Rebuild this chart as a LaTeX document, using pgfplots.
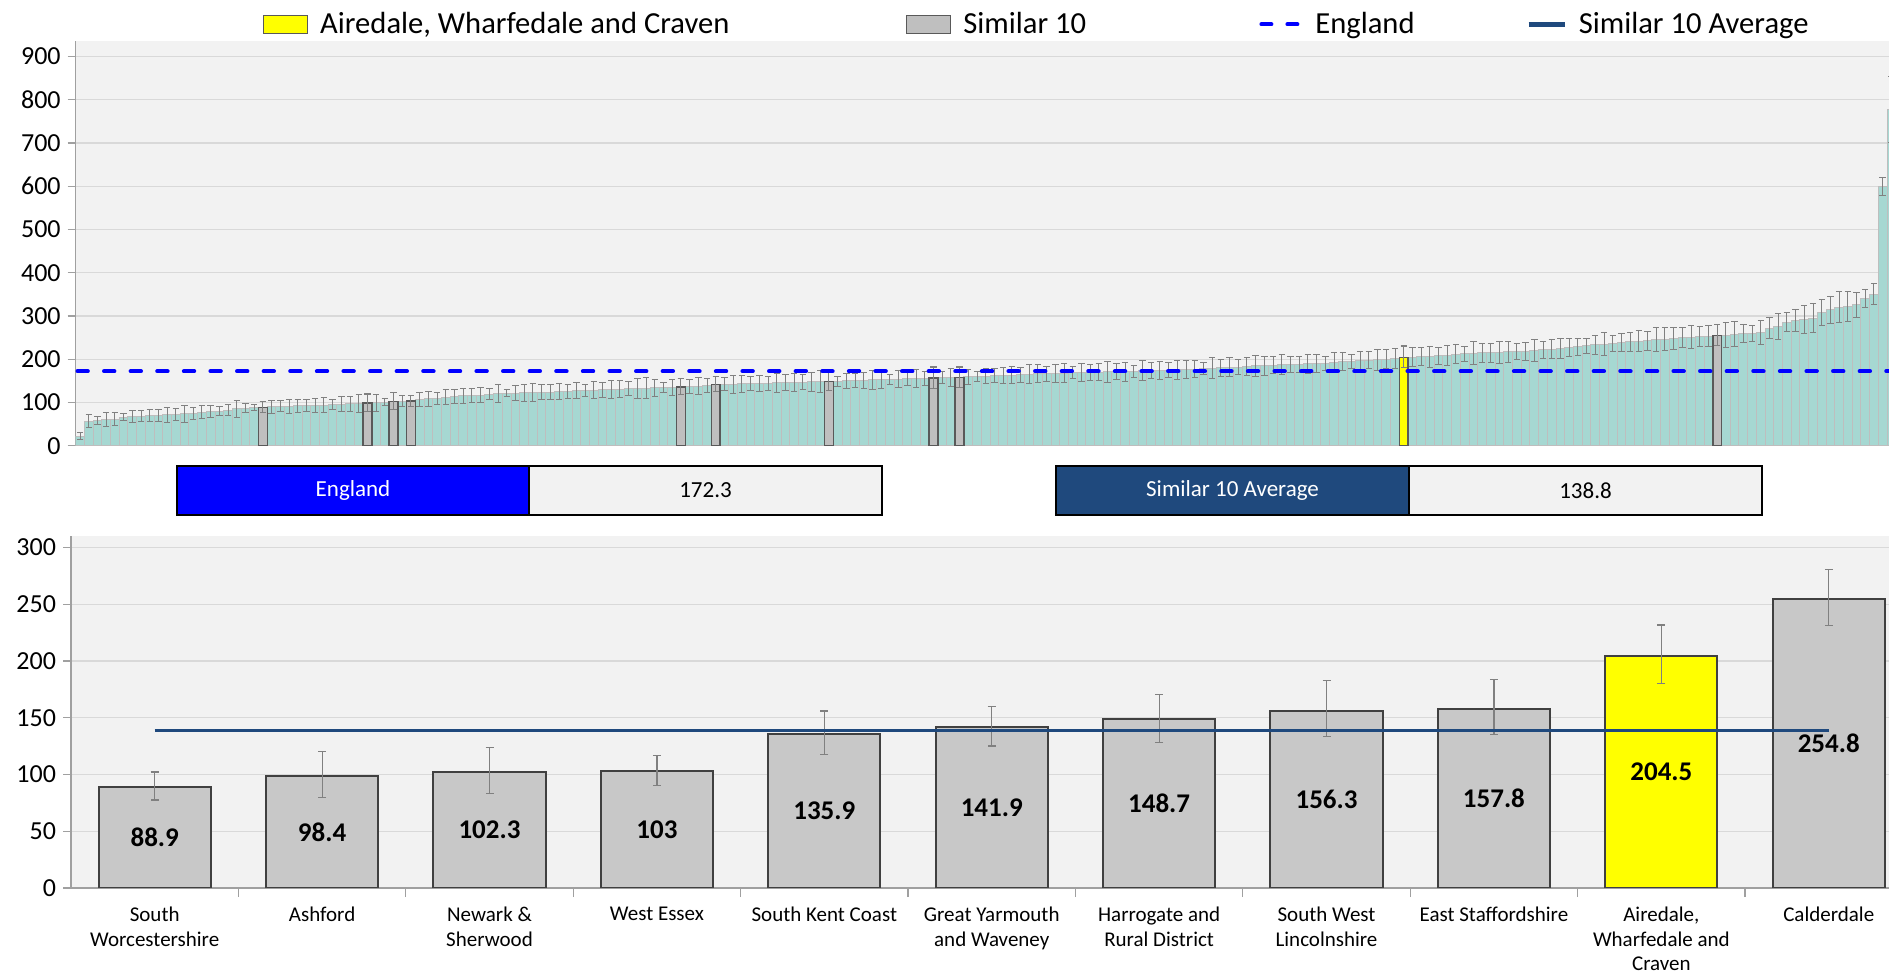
\documentclass[border=0pt]{standalone}
\usepackage{pgfplots}
\pgfplotsset{compat=1.18}
\usepackage{pgfplotstable}
\usepackage{fontspec}
\setmainfont{Carlito}

\definecolor{tealbar}{RGB}{166,216,210}
\definecolor{tealedge}{RGB}{190,190,190}
\definecolor{plotbg}{RGB}{242,242,242}
\definecolor{gridc}{RGB}{217,217,217}
\definecolor{axisc}{RGB}{160,160,160}
\definecolor{errc}{RGB}{128,128,128}
\definecolor{simfill}{RGB}{191,191,191}
\definecolor{simedge}{RGB}{89,89,89}
\definecolor{botfill}{RGB}{200,200,200}
\definecolor{botedge}{RGB}{64,64,64}
\definecolor{engblue}{RGB}{0,0,255}
\definecolor{avgblue}{RGB}{31,73,125}
\definecolor{yel}{RGB}{255,255,0}
\definecolor{boxgrey}{RGB}{242,242,242}

\pgfplotstableread{
x y e
0 22 8
1 57 14
2 58 10
3 60 16
4 61 15
5 66 8
6 67 14
7 68 13
8 69 14
9 70 14
10 71 18
11 72 13
12 74 20
13 75 14
14 77 15
15 79 13
16 80 10
17 82 13
18 85 20
19 87 11
20 88.5 7
21 88.9 13
22 90 15
23 91 13
24 91.5 16
25 92 15
26 93 14
27 93.5 16
28 94 17
29 95 12
30 96 18
31 97 17
32 97.5 21
33 98.4 20
34 99 19
35 100.5 8
36 102.3 20
37 102.6 13
38 103 14
39 106 16
40 108 17
41 110 14
42 112 17
43 113 16
44 115 18
45 116 16
46 117 17
47 119 13
48 120 21
49 121 8
50 121.5 18
51 122 19
52 123 20
53 123.5 17
54 124 17
55 125 18
56 126 16
57 127 19
58 127.5 14
59 128 20
60 129 18
61 130 21
62 131 19
63 132 16
64 132.5 23
65 133 24
66 134 20
67 134.5 12
68 135 19
69 135.9 19
70 137 17
71 138 20
72 139 16
73 141.9 18
74 142 15
75 142.5 21
76 143 20
77 143.5 17
78 144 18
79 144.5 16
80 145 22
81 145.5 19
82 146 21
83 147 17
84 147.5 22
85 148 25
86 148.7 21
87 149 11
88 150 18
89 150.5 17
90 151 19
91 152 23
92 152.5 20
93 153 12
94 154 19
95 154.5 15
96 155 21
97 156 16
98 156.3 25
99 157 14
100 157.5 21
101 157.8 24
102 159 17
103 160 12
104 161 18
105 161.5 16
106 162 19
107 163 20
108 164 18
109 165 22
110 166 21
111 166.5 17
112 167 20
113 168 22
114 168.5 14
115 169 21
116 169.5 18
117 170 20
118 170.5 24
119 171 18
120 171.5 22
121 172 14
122 173 23
123 173.5 19
124 174 21
125 175 18
126 176 22
127 176.5 20
128 177 19
129 178 14
130 179 24
131 180 20
132 181 22
133 182 17
134 183 21
135 184.5 24
136 185 22
137 186 20
138 187 23
139 187.5 19
140 188 18
141 189 21
142 190 20
143 191 16
144 192.5 23
145 194 21
146 195 17
147 196.5 22
148 198 20
149 199 24
150 200.5 21
151 202 23
152 204.5 26
153 205 22
154 205.5 21
155 206 24
156 207.5 20
157 209 23
158 211 22
159 212.5 17
160 214 26
161 214.5 23
162 215 22
163 216 25
164 217 24
165 217.5 18
166 218.5 21
167 220 25
168 221.5 20
169 223 22
170 225 24
171 227 21
172 229 20
173 231 18
174 233 23
175 235 27
176 236.5 19
177 238 21
178 240 22
179 241.5 24
180 243 22
181 245 28
182 246.5 26
183 248.5 25
184 250 24
185 251 27
186 252 23
187 253.5 25
188 254.8 25
189 256 28
190 257.7 29
191 259 21
192 260 18
193 261.6 27
194 272 24
195 275.5 30
196 286 23
197 289 26
198 292 32
199 295 34
200 308 30
201 314 31
202 320 36
203 322 35
204 326 29
205 340 21
206 350 24
207 600 21
208 778 76
}\allbars

\pgfplotstableread{
x y ep em
21 88.9 13.2 11.4
33 98.4 22 18.5
36 102.3 21.7 18.8
38 103 14 12.6
69 135.9 19.9 18.2
73 141.9 18.1 16.9
86 148.7 22 20.4
98 156.3 26.4 23.1
101 157.8 25.5 22.8
188 254.8 25.7 23.5
}\simtop

\pgfplotstableread{
x y ep em
152 204.5 27.1 24.5
}\areatop

\pgfplotstableread{
x y ep em lab
0 88.9 13.2 11.4 88.9
1 98.4 22 18.5 98.4
2 102.3 21.7 18.8 102.3
3 103 14 12.6 103
4 135.9 19.9 18.2 135.9
5 141.9 18.1 16.9 141.9
6 148.7 22 20.4 148.7
7 156.3 26.4 23.1 156.3
8 157.8 25.5 22.8 157.8
10 254.8 25.7 23.5 254.8
}\simbot

\pgfplotstableread{
x y ep em lab
9 204.5 27.1 24.5 204.5
}\areabot

\begin{document}
\begin{tikzpicture}
\path[use as bounding box] (0,0) rectangle (944.5bp,487.5bp);

% ---------------- top chart ----------------
\begin{axis}[
  at={(37.85bp,264.65bp)}, anchor=south west,
  scale only axis, width=906.65bp, height=202.35bp,
  xmin=-0.5, xmax=207.73, ymin=0, ymax=936,
  axis background/.style={fill=plotbg},
  axis x line*=bottom, axis y line*=left,
  axis line style={axisc, line width=0.6bp},
  xtick=\empty,
  ytick={0,100,...,900},
  ymajorgrids, grid style={gridc, line width=0.6bp},
  tick align=outside, major tick length=4bp,
  tick style={axisc, line width=0.6bp},
  /pgf/number format/assume math mode=true,
  yticklabel style={font=\fontsize{13bp}{15bp}\selectfont, text=black},
  clip=true,
  legend columns=4,
  legend cell align=left,
  legend style={at={(0.1033,1.041)}, anchor=west, draw=none, fill=none,
    inner sep=0pt, outer sep=0pt, row sep=0pt,
    nodes={inner sep=0pt},
    /tikz/every odd column/.style={column sep=6bp},
    font=\fontsize{15.3bp}{17bp}\selectfont},
]
\addlegendimage{legend image code/.code={\draw[fill=yel,draw=simedge,line width=0.6bp] (0bp,-4.4bp) rectangle (22bp,4.4bp);}}
\addlegendentry{\makebox[293bp][l]{Airedale, Wharfedale and Craven}}
\addlegendimage{legend image code/.code={\draw[fill=simfill,draw=simedge,line width=0.6bp] (0bp,-4.4bp) rectangle (22bp,4.4bp);}}
\addlegendentry{\makebox[148bp][l]{Similar 10}}
\addlegendimage{legend image code/.code={\draw[engblue,line width=2bp,line cap=round,dash pattern=on 5bp off 8bp] (1bp,0bp) -- (21bp,0bp);}}
\addlegendentry{\makebox[105.5bp][l]{England}}
\addlegendimage{legend image code/.code={\draw[avgblue,line width=2.2bp] (0bp,0bp) -- (18bp,0bp);}}
\addlegendentry{Similar 10 Average}

\addplot[ybar, bar width=1, bar shift=0pt, fill=tealbar, draw=tealedge, line width=0.5bp,
  error bars/.cd, y dir=both, y explicit,
  error bar style={errc, line width=0.5bp},
  error mark options={rotate=90, errc, mark size=1.6bp, line width=0.5bp}]
  table[x=x, y=y, y error=e] {\allbars};
\addplot[ybar, bar width=1, bar shift=0pt, fill=simfill, draw=simedge, line width=0.75bp,
  error bars/.cd, y dir=both, y explicit,
  error bar style={errc, line width=0.5bp},
  error mark options={rotate=90, errc, mark size=1.6bp, line width=0.5bp}]
  table[x=x, y=y, y error plus=ep, y error minus=em] {\simtop};
\addplot[ybar, bar width=1, bar shift=0pt, fill=yel, draw=simedge, line width=0.75bp,
  error bars/.cd, y dir=both, y explicit,
  error bar style={errc, line width=0.5bp},
  error mark options={rotate=90, errc, mark size=1.6bp, line width=0.5bp}]
  table[x=x, y=y, y error plus=ep, y error minus=em] {\areatop};
\addplot[engblue, line width=2bp, line cap=round, dash pattern=on 5.2bp off 8.1bp]
  coordinates {(-0.3,172.3) (207.73,172.3)};
\end{axis}

% ---------------- summary boxes ----------------
\node[draw=black, line width=1bp, fill=engblue, minimum width=176bp, minimum height=24.5bp,
  inner sep=0pt, anchor=south west, text=white, font=\fontsize{11.5bp}{13bp}\selectfont]
  at (88bp,229.5bp) {England};
\node[draw=black, line width=1bp, fill=boxgrey, minimum width=176.5bp, minimum height=24.5bp,
  inner sep=0pt, anchor=south west, text=black, font=\fontsize{11.5bp}{13bp}\selectfont]
  at (264bp,229.5bp) {172.3};
\node[draw=black, line width=1bp, fill=avgblue, minimum width=176.5bp, minimum height=24.5bp,
  inner sep=0pt, anchor=south west, text=white, font=\fontsize{11.5bp}{13bp}\selectfont]
  at (527.5bp,229.5bp) {Similar 10 Average};
\node[draw=black, line width=1bp, fill=boxgrey, minimum width=176.5bp, minimum height=24.5bp,
  inner sep=0pt, anchor=south west, text=black, font=\fontsize{11.5bp}{13bp}\selectfont]
  at (704bp,229.5bp) {138.8};

% ---------------- bottom chart ----------------
\begin{axis}[
  at={(35.5bp,43.5bp)}, anchor=south west,
  scale only axis, width=909bp, height=176bp,
  xmin=-0.5, xmax=10.36, ymin=0, ymax=310,
  axis background/.style={fill=plotbg},
  axis x line*=bottom, axis y line*=left,
  axis line style={axisc, line width=0.6bp},
  ytick={0,50,...,300},
  ymajorgrids, grid style={gridc, line width=0.6bp},
  tick align=outside, major tick length=4bp, minor tick length=4.5bp,
  tick style={axisc, line width=0.6bp},
  xtick={0,...,10},
  minor x tick num=1,
  major x tick style={draw=none},
  xticklabels={South\\Worcestershire, Ashford, Newark \&\\Sherwood, West Essex, South Kent Coast, Great Yarmouth\\and Waveney, Harrogate and\\Rural District, South West\\Lincolnshire, East Staffordshire, {Airedale,\\Wharfedale and\\Craven}, Calderdale},
  xticklabel style={align=center, font=\fontsize{10.5bp}{12.4bp}\selectfont, text=black, yshift=-1.8bp},
  /pgf/number format/assume math mode=true,
  yticklabel style={font=\fontsize{13bp}{15bp}\selectfont, text=black},
  clip=true,
]
\addplot[ybar, bar width=0.67, bar shift=0pt, fill=botfill, draw=botedge, line width=1bp,
  nodes near coords, point meta=explicit symbolic,
  visualization depends on=y \as \rawy,
  every node near coord/.append style={font=\bfseries\fontsize{13.5bp}{15bp}\selectfont, text=black, anchor=center, shift={(axis direction cs:0,-\rawy/2)}},
  error bars/.cd, y dir=both, y explicit,
  error bar style={errc, line width=0.6bp},
  error mark options={rotate=90, errc, mark size=2bp, line width=0.6bp}]
  table[x=x, y=y, y error plus=ep, y error minus=em, meta=lab] {\simbot};
\addplot[ybar, bar width=0.67, bar shift=0pt, fill=yel, draw=botedge, line width=1bp,
  nodes near coords, point meta=explicit symbolic,
  visualization depends on=y \as \rawy,
  every node near coord/.append style={font=\bfseries\fontsize{13.5bp}{15bp}\selectfont, text=black, anchor=center, shift={(axis direction cs:0,-\rawy/2)}},
  error bars/.cd, y dir=both, y explicit,
  error bar style={errc, line width=0.6bp},
  error mark options={rotate=90, errc, mark size=2bp, line width=0.6bp}]
  table[x=x, y=y, y error plus=ep, y error minus=em, meta=lab] {\areabot};
\addplot[avgblue, line width=1.7bp] coordinates {(0,138.8) (10,138.8)};
\end{axis}
\end{tikzpicture}
\end{document}
